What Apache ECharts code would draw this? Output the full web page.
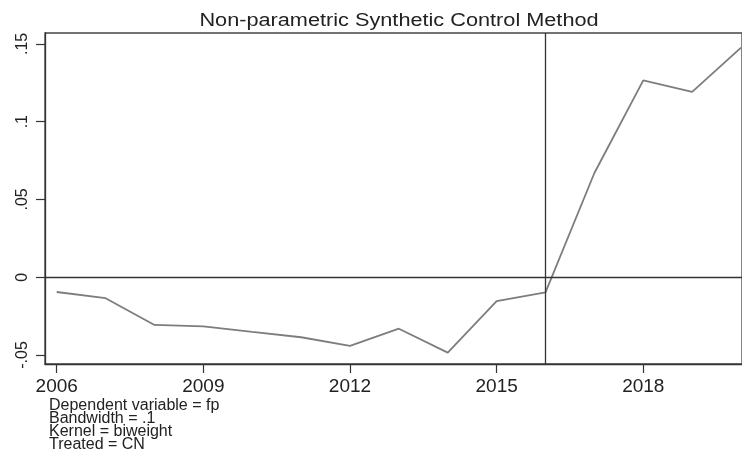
<!DOCTYPE html>
<html>
<head>
<meta charset="utf-8">
<script src="https://cdn.jsdelivr.net/npm/echarts@6/dist/echarts.min.js"></script>
<style>html,body{margin:0;padding:0;background:#fff}#c{width:742px;height:451px}</style>
</head>
<body>
<div id="c"></div>
<script>
var years = [2006,2007,2008,2009,2010,2011,2012,2013,2014,2015,2016,2017,2018,2019,2020];
var gap = [-0.0095,-0.0135,-0.0307,-0.0316,-0.0352,-0.0386,-0.0442,-0.0331,-0.0485,-0.0154,-0.0097,0.067,0.1265,0.1192,0.1476];
var xTicks = [2006,2009,2012,2015,2018];
var yTicks = [-0.05,0,0.05,0.1,0.15];
var yTickLabels = ['-.05','0','.05','.1','.15'];
var treatYear = 2016;
var titleText = 'Non-parametric Synthetic Control Method';
var notes = ['Dependent variable = fp','Bandwidth = .1','Kernel = biweight','Treated = CN'];

var chart = echarts.init(document.getElementById('c'), null, {renderer:'canvas'});
var font = 'Liberation Sans, Arial, sans-serif';
chart.setOption({
  animation:false,
  backgroundColor:'#fff',
  grid:{left:45,top:33,right:-1,bottom:87,show:true,borderColor:'#444',borderWidth:1.3,backgroundColor:'#fff'},
  xAxis:{type:'value',min:2005.76,max:2020.02,
    axisLine:{show:true,onZero:false,lineStyle:{color:'#333',width:1.3}},
    axisTick:{show:true,length:9,customValues:xTicks,lineStyle:{color:'#333',width:1.2}},
    axisLabel:{customValues:xTicks,margin:13,fontFamily:font,fontSize:19,color:'#222',formatter:function(v){return String(v);}},
    splitLine:{show:false}},
  yAxis:{type:'value',min:-0.0558,max:0.157,
    axisLine:{show:true,onZero:false,lineStyle:{color:'#333',width:1.3}},
    axisTick:{show:true,length:9,customValues:yTicks,lineStyle:{color:'#333',width:1.2}},
    axisLabel:{customValues:yTicks,rotate:90,margin:14,fontFamily:font,fontSize:16,color:'#222',
      formatter:function(v){var i=yTicks.findIndex(function(t){return Math.abs(t-v)<1e-9;});return i>=0?yTickLabels[i]:'';}},
    splitLine:{show:false}},
  series:[{type:'line',data:years.map(function(y,i){return [y,gap[i]];}),
    showSymbol:false,symbol:'none',lineStyle:{color:'#7d7d7d',width:1.8},
    markLine:{silent:true,symbol:'none',label:{show:false},
      lineStyle:{color:'#333',width:1.3,type:'solid'},
      data:[{xAxis:treatYear},{yAxis:0}]}}],
  graphic:[
    {type:'text',x:399,y:21,scaleX:1.24,style:{text:titleText,fontFamily:font,fontSize:17.5,fill:'#222',textAlign:'center',textVerticalAlign:'middle'}},
    {type:'text',left:49,top:398,style:{text:notes.join('\n'),fontFamily:font,fontSize:16,lineHeight:12.8,fill:'#222'}}
  ]
});
</script>
</body>
</html>
